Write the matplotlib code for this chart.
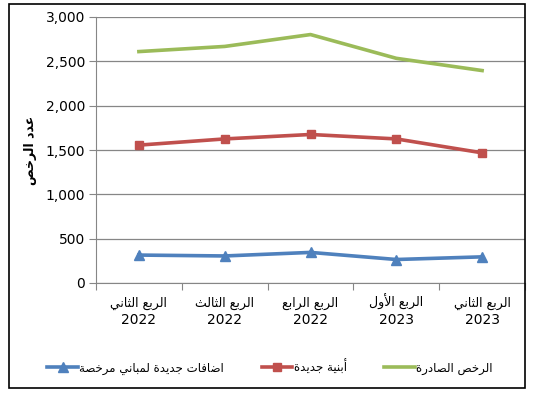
import matplotlib.pyplot as plt
from matplotlib.patches import Rectangle
from matplotlib.ticker import FuncFormatter
from matplotlib.transforms import offset_copy

# Data
quarters = ["الربع الثاني", "الربع الثالث", "الربع الرابع", "الربع الأول", "الربع الثاني"]
years = ["2022", "2022", "2022", "2023", "2023"]
additions = [315, 305, 345, 265, 295]
new_buildings = [1555, 1625, 1675, 1625, 1468]
issued_permits = [2610, 2668, 2802, 2534, 2396]

series_names = ["اضافات جديدة لمباني مرخصة", "أبنية جديدة", "الرخص الصادرة"]
y_label = "عدد الرخص"

# minimal Arabic shaping (matplotlib has no shaping / bidi)
FORMS = {
    'ا': (0xFE8D, 0xFE8E, None, None), 'أ': (0xFE83, 0xFE84, None, None),
    'ب': (0xFE8F, 0xFE90, 0xFE91, 0xFE92), 'ة': (0xFE93, 0xFE94, None, None),
    'ت': (0xFE95, 0xFE96, 0xFE97, 0xFE98), 'ث': (0xFE99, 0xFE9A, 0xFE9B, 0xFE9C),
    'ج': (0xFE9D, 0xFE9E, 0xFE9F, 0xFEA0), 'ح': (0xFEA1, 0xFEA2, 0xFEA3, 0xFEA4),
    'خ': (0xFEA5, 0xFEA6, 0xFEA7, 0xFEA8), 'د': (0xFEA9, 0xFEAA, None, None),
    'ر': (0xFEAD, 0xFEAE, None, None), 'ص': (0xFEB9, 0xFEBA, 0xFEBB, 0xFEBC),
    'ض': (0xFEBD, 0xFEBE, 0xFEBF, 0xFEC0), 'ع': (0xFEC9, 0xFECA, 0xFECB, 0xFECC),
    'ف': (0xFED1, 0xFED2, 0xFED3, 0xFED4), 'ق': (0xFED5, 0xFED6, 0xFED7, 0xFED8),
    'ل': (0xFEDD, 0xFEDE, 0xFEDF, 0xFEE0), 'م': (0xFEE1, 0xFEE2, 0xFEE3, 0xFEE4),
    'ن': (0xFEE5, 0xFEE6, 0xFEE7, 0xFEE8), 'و': (0xFEED, 0xFEEE, None, None),
    'ي': (0xFEF1, 0xFEF2, 0xFEF3, 0xFEF4), 'ى': (0xFEEF, 0xFEF0, None, None),
}
LAM_ALEF = {'ا': (0xFEFB, 0xFEFC), 'أ': (0xFEF7, 0xFEF8)}


def shape(text):
    out = []
    i = 0
    n = len(text)
    while i < n:
        c = text[i]
        prev = text[i - 1] if i > 0 else ''
        joins_prev = prev in FORMS and FORMS[prev][2] is not None
        if c == 'ل' and i + 1 < n and text[i + 1] in LAM_ALEF:
            iso, fin = LAM_ALEF[text[i + 1]]
            out.append(chr(fin if joins_prev else iso))
            i += 2
            continue
        if c not in FORMS:
            out.append(c)
            i += 1
            continue
        iso, fin, ini, med = FORMS[c]
        nxt = text[i + 1] if i + 1 < n else ''
        joins_next = ini is not None and nxt in FORMS
        if joins_prev and joins_next:
            out.append(chr(med))
        elif joins_prev:
            out.append(chr(fin))
        elif joins_next:
            out.append(chr(ini))
        else:
            out.append(chr(iso))
        i += 1
    return ''.join(out)[::-1]


plt.rcParams['font.family'] = 'DejaVu Sans'

fig = plt.figure(figsize=(5.37, 3.98), dpi=100)
ax = fig.add_axes([96 / 537, 1 - 283 / 398, 429 / 537, 266 / 398])

x = list(range(len(quarters)))
ax.plot(x, additions, color='#4F81BD', lw=2.6, marker='^', ms=7, label=shape(series_names[0]))
ax.plot(x, new_buildings, color='#C0504D', lw=2.6, marker='s', ms=6, label=shape(series_names[1]))
ax.plot(x, issued_permits, color='#9BBB59', lw=2.6, label=shape(series_names[2]))

ax.set_xlim(-0.5, len(quarters) - 0.5)
ax.set_ylim(0, 3000)
ax.set_yticks(range(0, 3001, 500))
ax.yaxis.set_major_formatter(FuncFormatter(lambda v, p: f"{int(v):,}"))
ax.grid(axis='y', color='#868686', lw=0.9)
ax.set_axisbelow(True)

# category boundary ticks, labels at the centres
ax.set_xticks([i - 0.5 for i in range(len(quarters) + 1)])
ax.set_xticklabels([])
ax.tick_params(axis='x', length=5, color='#868686', direction='out')
ax.tick_params(axis='y', length=5, color='#868686', labelsize=10, pad=3)

trans = ax.get_xaxis_transform()
for xi, q, yr in zip(x, quarters, years):
    ax.text(xi, 0, shape(q), transform=offset_copy(trans, fig=fig, y=-17, units='points'),
            ha='center', va='baseline', fontsize=9)
    ax.text(xi, 0, yr, transform=offset_copy(trans, fig=fig, y=-29.5, units='points'),
            ha='center', va='baseline', fontsize=10)

for s in ['top', 'right']:
    ax.spines[s].set_visible(False)
for s in ['left', 'bottom']:
    ax.spines[s].set_color('#868686')

ax.set_ylabel(shape(y_label), fontsize=9, fontweight='bold', labelpad=6)

fig.legend(loc='center', bbox_to_anchor=(270 / 537, 1 - 367 / 398), ncol=3, frameon=False,
           fontsize=8.5, handlelength=2.6, handletextpad=0.1, columnspacing=3.2)

# outer chart border
fig.patches.append(Rectangle((9 / 537, 1 - 388 / 398), 516 / 537, 384 / 398,
                             transform=fig.transFigure, fill=False, edgecolor='black', lw=1.2))

fig.savefig('out.png', dpi=100)
